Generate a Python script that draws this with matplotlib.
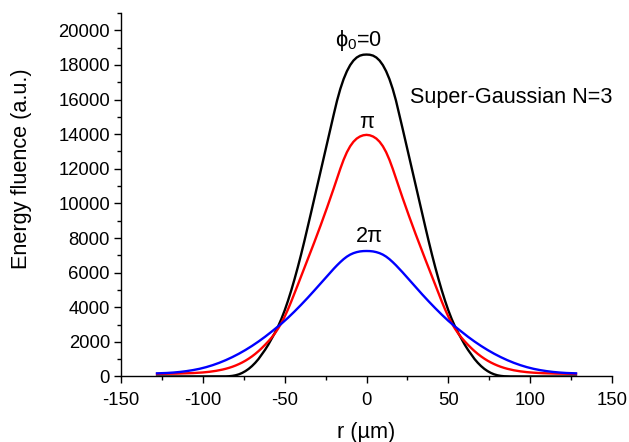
import matplotlib
matplotlib.use("Agg")
import matplotlib.pyplot as plt
from matplotlib.ticker import MultipleLocator

plt.rcParams['font.family'] = ['Liberation Sans', 'DejaVu Sans']
plt.rcParams['mathtext.fontset'] = 'custom'
plt.rcParams['mathtext.rm'] = 'Liberation Sans'
plt.rcParams['axes.unicode_minus'] = False

# radial sampling positions (um), every 2 um
r = list(range(-128, 129, 2))

# phi0 = 0
fluence_0 = [
    0, 0, 0, 0, 0, 0, 0, 0, 0, 0, 0, 0, 0, 0, 0, 0, 0, 0, 0,
    0, 2, 6, 15, 35, 70, 125, 205, 310, 440, 600, 790, 1010, 1270, 1540, 1840,
    2180, 2520, 2900, 3330, 3820, 4370, 4970, 5620, 6310, 7040, 7810, 8610,
    9420, 10240, 11060, 11880, 12700, 13520, 14340, 15150, 15939, 16617, 17180,
    17634, 17988, 18250, 18429, 18538, 18589,
    18600,
    18589, 18538, 18429, 18250, 17988, 17634, 17180, 16617, 15939, 15150, 14340,
    13520, 12700, 11880, 11060, 10240, 9420, 8610, 7810, 7040, 6310, 5620, 4970,
    4370, 3820, 3330, 2900, 2520, 2180, 1840, 1540, 1270, 1010, 790, 600, 440,
    310, 205, 125, 70, 35, 15, 6, 2, 0,
    0, 0, 0, 0, 0, 0, 0, 0, 0, 0, 0, 0, 0, 0, 0, 0, 0, 0, 0]

# phi0 = pi
fluence_pi = [
    150, 152, 154, 157, 160, 163, 167, 172, 177, 183, 190, 198, 208, 220, 234,
    251, 272, 297, 326, 360, 400, 446, 500, 562, 634, 716, 808, 912, 1030, 1160,
    1305, 1465, 1640, 1830, 2030, 2245, 2490, 2770, 3090, 3460, 3875, 4330, 4805,
    5290, 5775, 6260, 6745, 7235, 7730, 8230, 8740, 9260, 9790, 10330, 10880,
    11440, 12005, 12520, 12955, 13300, 13560, 13745, 13865, 13935,
    13960,
    13935, 13865, 13745, 13560, 13300, 12955, 12520, 12005, 11440, 10880, 10330,
    9790, 9260, 8740, 8230, 7730, 7235, 6745, 6260, 5775, 5290, 4805, 4330, 3875,
    3460, 3090, 2770, 2490, 2245, 2030, 1830, 1640, 1465, 1305, 1160, 1030, 912,
    808, 716, 634, 562, 500, 446, 400, 360, 326, 297, 272, 251, 234, 220, 208,
    198, 190, 183, 177, 172, 167, 163, 160, 157, 154, 152, 150]

# phi0 = 2pi
fluence_2pi = [
    182, 187, 194, 203, 214, 228, 244, 263, 285, 310, 338, 370, 405, 445, 490,
    540, 595, 655, 720, 790, 865, 945, 1030, 1120, 1215, 1315, 1420, 1530, 1645,
    1765, 1890, 2020, 2155, 2295, 2440, 2590, 2742, 2892, 3050, 3216, 3390, 3570,
    3756, 3946, 4140, 4338, 4540, 4746, 4956, 5169, 5384, 5599, 5812, 6022, 6227,
    6425, 6610, 6780, 6925, 7040, 7125, 7185, 7225, 7245,
    7250,
    7245, 7225, 7185, 7125, 7040, 6925, 6780, 6610, 6425, 6227, 6022, 5812, 5599,
    5384, 5169, 4956, 4746, 4540, 4338, 4140, 3946, 3756, 3570, 3390, 3216, 3050,
    2892, 2742, 2590, 2440, 2295, 2155, 2020, 1890, 1765, 1645, 1530, 1420, 1315,
    1215, 1120, 1030, 945, 865, 790, 720, 655, 595, 540, 490, 445, 405, 370, 338,
    310, 285, 263, 244, 228, 214, 203, 194, 187, 182]

fig = plt.figure(figsize=(6.29, 4.42), dpi=100)
ax = fig.add_axes([0.1924, 0.1482, 0.7806, 0.8224])

ax.plot(r, fluence_0, color='black', lw=1.7)
ax.plot(r, fluence_pi, color='#ff0000', lw=1.7)
ax.plot(r, fluence_2pi, color='#0000ff', lw=1.7)

ax.set_xlim(-150, 150)
ax.set_ylim(0, 21000)
ax.xaxis.set_major_locator(MultipleLocator(50))
ax.xaxis.set_minor_locator(MultipleLocator(25))
ax.yaxis.set_major_locator(MultipleLocator(2000))
ax.yaxis.set_minor_locator(MultipleLocator(1000))

ax.spines['top'].set_visible(False)
ax.spines['right'].set_visible(False)
for s in ['left', 'bottom']:
    ax.spines[s].set_linewidth(1.0)
ax.tick_params(which='major', direction='out', length=5, width=1.0, labelsize=13.3)
ax.tick_params(which='minor', direction='out', length=3, width=1.0)
ax.tick_params(axis='x', which='major', pad=6)
ax.tick_params(axis='y', which='major', pad=3)

ax.set_xlabel('r (\u00b5m)', fontsize=15.6)
ax.set_ylabel('Energy fluence (a.u.)', fontsize=15.6)
ax.xaxis.set_label_coords(0.5, -0.125)
ax.yaxis.set_label_coords(-0.181, 0.571)

ax.text(-5, 19100, '$\\mathregular{\u03d5_0}$=0', fontsize=15.6, ha='center', va='baseline')
ax.text(0, 14360, '\u03c0', fontsize=15.6, ha='center', va='baseline')
ax.text(2, 7775, '2\u03c0', fontsize=15.6, ha='center', va='baseline')
ax.text(26.3, 15810, 'Super-Gaussian N=3', fontsize=15.6, ha='left', va='baseline')

fig.savefig('out.png', dpi=100)
